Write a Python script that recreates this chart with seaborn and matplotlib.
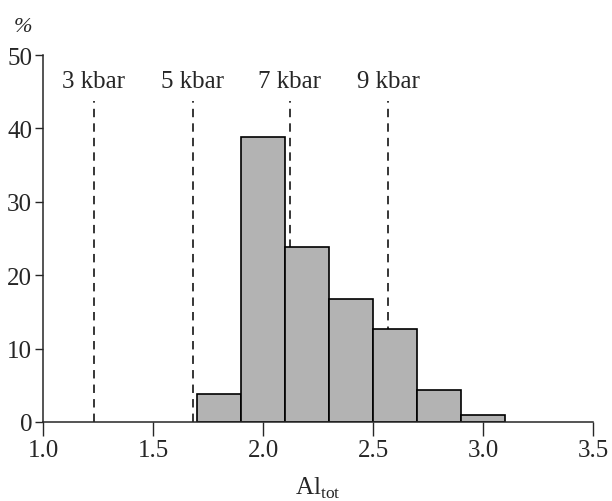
import numpy as np
import pandas as pd
import matplotlib
matplotlib.use('Agg')
import matplotlib.pyplot as plt
import seaborn as sns

sns.set_style("ticks")
plt.rcParams['font.family'] = ['Liberation Serif', 'DejaVu Serif']
plt.rcParams['mathtext.fontset'] = 'custom'
plt.rcParams['mathtext.rm'] = 'Liberation Serif'

# histogram data (Al_tot, % of analyses)
bin_edges = [1.7, 1.9, 2.1, 2.3, 2.5, 2.7, 2.9, 3.1]
percent = [3.8, 38.8, 23.8, 16.7, 12.7, 4.3, 1.0]

# pressure markers
pressure_labels = ['3 kbar', '5 kbar', '7 kbar', '9 kbar']
pressure_al = [1.23, 1.68, 2.12, 2.57]

df = pd.DataFrame({
    'al': [(a + b) / 2 for a, b in zip(bin_edges[:-1], bin_edges[1:])],
    'pct': percent,
})

fig = plt.figure(figsize=(6.12, 5.02), dpi=100)
ax = fig.add_axes([0.0708, 0.1574, 0.898, 0.731])

sns.histplot(data=df, x='al', weights='pct', bins=bin_edges, stat='count',
             color='#b3b3b3', alpha=1, edgecolor='black', linewidth=1.2, ax=ax)

for lab, xv in zip(pressure_labels, pressure_al):
    ax.plot([xv, xv], [0, 43.8], color='black', lw=1.1, dashes=(5.5, 4), zorder=0)
    ax.text(xv, 45.0, lab, ha='center', va='bottom', fontsize=18)

ax.set_xlim(1.0, 3.5)
ax.set_ylim(0, 50)
ax.set_xticks([1.0, 1.5, 2.0, 2.5, 3.0, 3.5])
ax.set_xticklabels(['1.0', '1.5', '2.0', '2.5', '3.0', '3.5'])
ax.set_yticks([0, 10, 20, 30, 40, 50])
ax.tick_params(axis='x', length=10, width=1, labelsize=18, pad=2)
ax.tick_params(axis='y', length=6, width=1, labelsize=18, pad=2)
sns.despine(ax=ax)
for s in ['left', 'bottom']:
    ax.spines[s].set_linewidth(1.1)
ax.set_xlabel(r'Al$_{\mathrm{tot}}$', fontsize=18, labelpad=10)
ax.set_ylabel('')
fig.text(0.038, 0.945, '%', fontsize=16, style='italic', ha='center', va='center')

fig.savefig('out.png', dpi=100)
